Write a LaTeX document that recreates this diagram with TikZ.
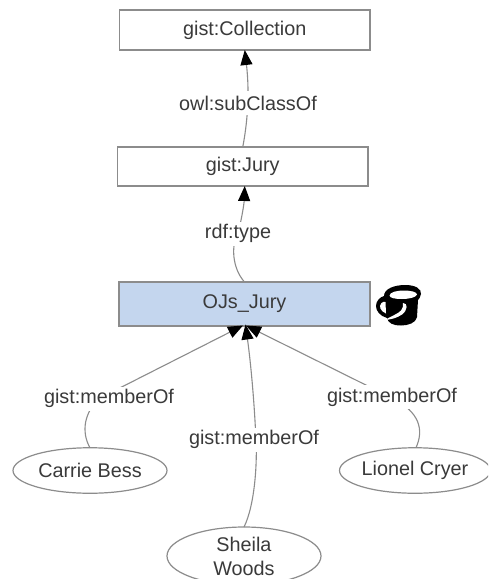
\documentclass[tikz,border=0pt]{standalone}
\usepackage{fontspec}
\setmainfont{Liberation Sans}
\usetikzlibrary{arrows.meta,shapes.geometric}
\definecolor{edgegray}{HTML}{8C8C8C}
\definecolor{textgray}{HTML}{3A3A3A}
\definecolor{bluefill}{HTML}{C4D6EE}
\tikzset{
  every node/.style={font=\fontsize{19.8}{24}\selectfont, text=textgray},
  classbox/.style={draw=edgegray, line width=1.2pt, rectangle, fill=white, inner sep=0pt, outer sep=0pt},
  person/.style={draw=edgegray, line width=1.2pt, ellipse, fill=white, inner sep=0pt, outer sep=0pt, align=center},
  link/.style={draw=edgegray, line width=1.1pt, -{Triangle[length=15pt,width=12pt,black]}},
  edgelabel/.style={fill=white, inner sep=0pt, inner xsep=2pt, minimum height=24pt}
}
\begin{document}
\begin{tikzpicture}[x=1pt,y=-1pt]
\useasboundingbox (0,0) rectangle (488,579);
\clip (0,0) rectangle (488,579);
\fill[white] (0,0) rectangle (488,579);
% nodes
\node[classbox, minimum width=250.5pt, minimum height=40pt] (coll) at (244.75,30) {gist:Collection};
\node[classbox, minimum width=250.5pt, minimum height=39pt] (jury) at (242.75,166.5) {gist:Jury};
\node[classbox, fill=bluefill, minimum width=251pt, minimum height=44pt] (oj) at (244.5,304) {OJs\_Jury};
\node[person, minimum width=154pt, minimum height=45.5pt] (carrie) at (90,470.5) {Carrie Bess};
\node[person, minimum width=151pt, minimum height=45.5pt] (lionel) at (415,470.5) {Lionel Cryer};
\node[person, minimum width=154pt, minimum height=58pt] (sheila) at (244,556) {Sheila\\Woods};
% connectors
\draw[link] (jury.north) .. controls (247,125) and (250,95) .. (coll.south);
\draw[link] (oj.north) .. controls (232,268) and (231,245) .. (238,233) .. controls (241,222) and (244,205) .. ([xshift=2pt]jury.south);
\draw[link] (carrie.north) .. controls (81,432) and (84,412) .. (100,398) -- ([xshift=-1.5pt,yshift=0.5pt]oj.south);
\draw[link] ([xshift=1pt]lionel.north) .. controls (424,430) and (420,412) .. (392,398) -- ([xshift=1.5pt,yshift=0.5pt]oj.south);
\draw[link] (sheila.north) .. controls (255,505) and (258,460) .. (255.5,430) .. controls (254,400) and (251,365) .. ([xshift=1pt,yshift=1.5pt]oj.south);
% labels
\node[edgelabel] (l1) at (248,103) {owl:subClassOf};
\node[edgelabel] (l2) at (238,233.5) {rdf:type};
\node[edgelabel] (l3) at (109,398.5) {gist:memberOf};
\node[edgelabel] (l4) at (392,397) {gist:memberOf};
\node[edgelabel] (l5) at (254,439.5) {gist:memberOf};
% bucket icon
\fill[black] (384,296) .. controls (384,289) and (394,285) .. (405,285) .. controls (416,285) and (421.5,289) .. (421,294) .. controls (420.5,297) and (419,299) .. (418,300) -- (417,317) .. controls (416,323) and (408,325.5) .. (401,325.5) .. controls (393,325.5) and (388,323) .. (387,318) .. controls (380,316) and (376,311) .. (376,306) .. controls (376,301) and (380,297) .. (384,296) -- cycle;
\fill[white] (389.5,295.5) .. controls (390,292) and (397,290.5) .. (404,290.5) .. controls (411,290.5) and (417,292) .. (417,294.5) .. controls (416,297.5) and (409,299) .. (402,299) .. controls (395,299) and (389.5,298) .. (389.5,295.5) -- cycle;
\fill[white] (381.5,303) .. controls (378.5,306) and (380,311) .. (386,313.5) -- (385.5,302) .. controls (384,301.5) and (382.5,302) .. (381.5,303) -- cycle;
\fill[white] (403,303) .. controls (408,303) and (408,310) .. (402,314.5) .. controls (397,318) and (391,319.5) .. (385,320) .. controls (391,316) and (398,314) .. (401,310.5) .. controls (403,308) and (403.5,305.5) .. (403,303) -- cycle;
\end{tikzpicture}
\end{document}
